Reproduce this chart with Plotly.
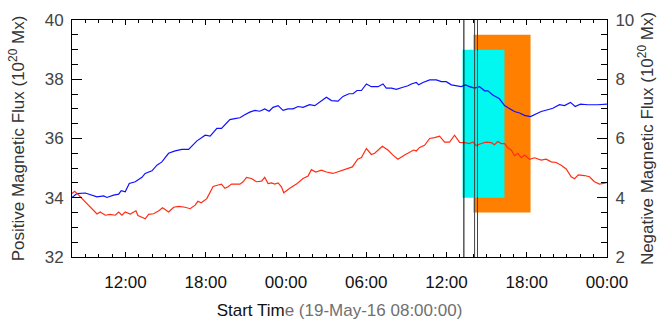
import pandas as pd
import plotly.graph_objects as go

START = pd.Timestamp("2016-05-19 08:00:00")

# Positive flux (blue, left axis, 10^20 Mx): hours after start, values
pos_hours = [0.00, 0.37, 0.99, 1.37, 1.87, 2.37, 2.61, 3.11, 3.49, 3.68, 3.98, 4.28, 4.73, 5.23,
             5.47, 5.98, 6.35, 6.72, 7.22, 7.71, 8.22, 8.72, 8.96, 9.34, 9.71, 9.96, 10.33, 10.58,
             10.83, 11.18, 11.43, 11.80, 12.17, 12.55, 12.92, 13.29, 13.67, 14.04, 14.41, 14.74,
             15.03, 15.41, 15.78, 16.15, 16.53, 16.90, 17.27, 17.77, 18.15, 18.52, 19.02, 19.40,
             19.89, 20.26, 20.71, 21.01, 21.31, 21.64, 22.01, 22.38, 22.88, 23.25, 23.50, 23.88,
             24.25, 24.74, 25.12, 25.37, 25.74, 25.92, 26.24, 26.74, 27.24, 27.61, 27.98, 28.36,
             28.73, 29.10, 29.43, 29.72, 30.10, 30.47, 30.85, 31.09, 31.46, 31.96, 32.34, 32.71,
             33.08, 33.46, 33.83, 34.28, 34.71, 35.08, 35.57, 35.95, 36.45, 36.82, 37.27, 37.62,
             38.01, 38.56, 39.31, 40.00]
pos_flux = [34.01, 34.14, 34.16, 34.11, 34.03, 34.06, 34.01, 34.09, 34.12, 34.24, 34.20, 34.48, 34.54, 34.69,
            34.82, 34.91, 35.10, 35.21, 35.50, 35.58, 35.63, 35.63, 35.74, 35.92, 36.03, 36.11, 36.08, 36.20,
            36.34, 36.34, 36.45, 36.64, 36.67, 36.70, 36.80, 36.89, 36.95, 36.92, 37.00, 36.92,
            37.05, 37.11, 36.95, 37.00, 37.00, 37.08, 37.05, 37.14, 37.11, 37.22, 37.39, 37.28,
            37.26, 37.42, 37.51, 37.51, 37.62, 37.62, 37.84, 37.75, 37.75, 37.84, 37.70, 37.70,
            37.66, 37.73, 37.78, 37.84, 37.89, 37.81, 37.89, 37.98, 37.98, 37.92, 37.92, 37.81,
            37.78, 37.75, 37.81, 37.75, 37.70, 37.75, 37.61, 37.61, 37.47, 37.34, 37.11, 37.02,
            36.91, 36.86, 36.78, 36.74, 36.82, 36.91, 36.97, 37.02, 37.14, 37.11, 37.22, 37.08,
            37.16, 37.14, 37.14, 37.16]

# Negative flux (red, right axis, 10^20 Mx)
neg_hours = [0.00, 0.20, 0.50, 0.87, 1.25, 1.62, 1.87, 2.11, 2.49, 2.86, 3.23, 3.49, 3.73, 3.98, 4.35,
             4.78, 4.93, 5.23, 5.47, 5.73, 6.10, 6.52, 6.77, 7.22, 7.60, 7.97, 8.46, 8.83, 9.21, 9.41,
             9.66, 10.08, 10.31, 10.55, 10.93, 11.18, 11.43, 11.67, 11.93, 12.55, 12.79, 13.05, 13.42,
             13.79, 14.17, 14.41, 14.66, 14.91, 15.16, 15.41, 15.66, 15.83, 16.28, 16.78, 17.27, 17.65,
             17.90, 18.22, 18.65, 19.02, 19.51, 19.89, 20.26, 20.64, 20.96, 21.14, 21.36, 21.64, 22.01,
             22.38, 22.63, 23.20, 23.62, 24.00, 24.37, 24.87, 25.24, 25.54, 25.74, 25.99, 26.36, 26.74,
             27.11, 27.48, 27.86, 28.23, 28.60, 28.98, 29.35, 29.72, 29.97, 30.22, 30.60, 30.97, 31.35,
             31.59, 31.84, 32.09, 32.34, 32.59, 32.84, 33.08, 33.33, 33.59, 33.83, 34.21, 34.58, 35.08,
             35.45, 35.83, 36.20, 36.57, 36.95, 37.32, 37.57, 37.86, 38.31, 38.69, 39.06, 39.43, 39.81,
             40.00]
neg_flux = [4.14, 4.22, 4.09, 3.92, 3.72, 3.58, 3.45, 3.52, 3.41, 3.44, 3.41, 3.52, 3.41, 3.52, 3.45,
            3.56, 3.40, 3.34, 3.29, 3.44, 3.46, 3.57, 3.66, 3.52, 3.68, 3.71, 3.68, 3.63, 3.75, 3.88,
            3.83, 3.97, 4.15, 4.38, 4.43, 4.46, 4.32, 4.37, 4.46, 4.46, 4.54, 4.69, 4.65,
            4.54, 4.56, 4.69, 4.48, 4.50, 4.46, 4.50, 4.37, 4.17, 4.32, 4.46, 4.65, 4.73,
            4.95, 4.87, 4.93, 4.87, 4.82, 4.87, 4.93, 4.99, 5.04, 5.15, 5.30, 5.36, 5.66,
            5.46, 5.50, 5.74, 5.61, 5.44, 5.30, 5.44, 5.52, 5.61, 5.58, 5.70, 5.77, 6.00,
            6.03, 6.08, 5.88, 5.88, 6.11, 5.87, 5.86, 5.83, 5.88, 5.76, 5.83, 5.88, 5.86,
            5.79, 5.90, 5.83, 5.83, 5.68, 5.61, 5.42, 5.50, 5.35, 5.44, 5.30, 5.35, 5.27,
            5.30, 5.21, 5.19, 5.10, 4.97, 4.71, 4.64, 4.77, 4.75, 4.71, 4.54, 4.46, 4.49,
            4.52]

# Highlighted intervals (time start, time end, flux low, flux high on left axis)
cyan_box = ["2016-05-20 13:12", "2016-05-20 16:20", 34.0, 39.0]
orange_box = ["2016-05-20 14:01", "2016-05-20 18:17", 33.5, 39.5]
event_lines = ["2016-05-20 13:18", "2016-05-20 14:06", "2016-05-20 14:19"]
event_colors = ["#000000", "#444444", "#444444"]

FONT = "Liberation Sans, Arial, sans-serif"

pos_t = [START + pd.Timedelta(hours=h) for h in pos_hours]
neg_t = [START + pd.Timedelta(hours=h) for h in neg_hours]

fig = go.Figure()
fig.add_trace(go.Scatter(x=pos_t, y=pos_flux, mode="lines",
                         line=dict(color="#1010ff", width=1.2), yaxis="y", showlegend=False))
fig.add_trace(go.Scatter(x=neg_t, y=neg_flux, mode="lines",
                         line=dict(color="#ff2d14", width=1.2), yaxis="y2", showlegend=False))

fig.add_shape(type="rect", xref="x", yref="y", x0=orange_box[0], x1=orange_box[1],
              y0=orange_box[2], y1=orange_box[3], fillcolor="#ff8000", line=dict(width=0), layer="below")
fig.add_shape(type="rect", xref="x", yref="y", x0=cyan_box[0], x1=cyan_box[1],
              y0=cyan_box[2], y1=cyan_box[3], fillcolor="#00f8f0", line=dict(width=0), layer="below")
for t, c in zip(event_lines, event_colors):
    fig.add_shape(type="line", xref="x", yref="paper", x0=t, x1=t, y0=0, y1=1,
                  line=dict(color=c, width=1), layer="above")

fig.update_layout(
    width=660, height=324,
    margin=dict(l=72, r=53, t=20, b=67),
    plot_bgcolor="white", paper_bgcolor="white",
    font=dict(family=FONT, size=17, color="#333"),
    xaxis=dict(
        type="date", automargin=False,
        range=["2016-05-19 08:00", "2016-05-21 00:00"],
        tick0="2016-05-19 00:00", dtick=6 * 3600 * 1000, tickformat="%H:%M",
        ticks="inside", ticklen=5, tickcolor="black", tickwidth=1,
        minor=dict(dtick=3600 * 1000, ticks="inside", ticklen=3, tickcolor="black"),
        showline=True, linecolor="black", linewidth=1, mirror="ticks",
        showgrid=False, zeroline=False,
        tickfont=dict(size=17, color="#111"), ticklabelstandoff=10,
        title=dict(text="Start Tim<span style='color:#707070'>e (19-May-16 08:00:00)</span>",
                   font=dict(size=17, color="#111"), standoff=12),
    ),
    yaxis=dict(
        automargin=False,
        range=[32, 40], dtick=2, tick0=32,
        ticks="inside", ticklen=10, tickcolor="black",
        minor=dict(dtick=0.5, ticks="inside", ticklen=6, tickcolor="black"),
        showline=True, linecolor="black", linewidth=1,
        showgrid=False, zeroline=False,
        tickfont=dict(size=17, color="#444"), ticklabelstandoff=4,
        title=dict(text="Positive Magnetic Flux (10<sup>20</sup> Mx)",
                   font=dict(size=17, color="#333"), standoff=15),
    ),
    yaxis2=dict(
        automargin=False,
        range=[2, 10], dtick=2, tick0=2, overlaying="y", side="right",
        ticks="inside", ticklen=10, tickcolor="black",
        minor=dict(dtick=0.5, ticks="inside", ticklen=6, tickcolor="black"),
        showline=True, linecolor="black", linewidth=1,
        showgrid=False, zeroline=False,
        tickfont=dict(size=17, color="#444"), ticklabelstandoff=4,
        title=dict(text="Negative Magnetic Flux (10<sup>20</sup> Mx)",
                   font=dict(size=17, color="#333"), standoff=7),
    ),
)

fig.write_html("out.html", config={"displayModeBar": False},
               post_script="document.body.style.margin='0';")
